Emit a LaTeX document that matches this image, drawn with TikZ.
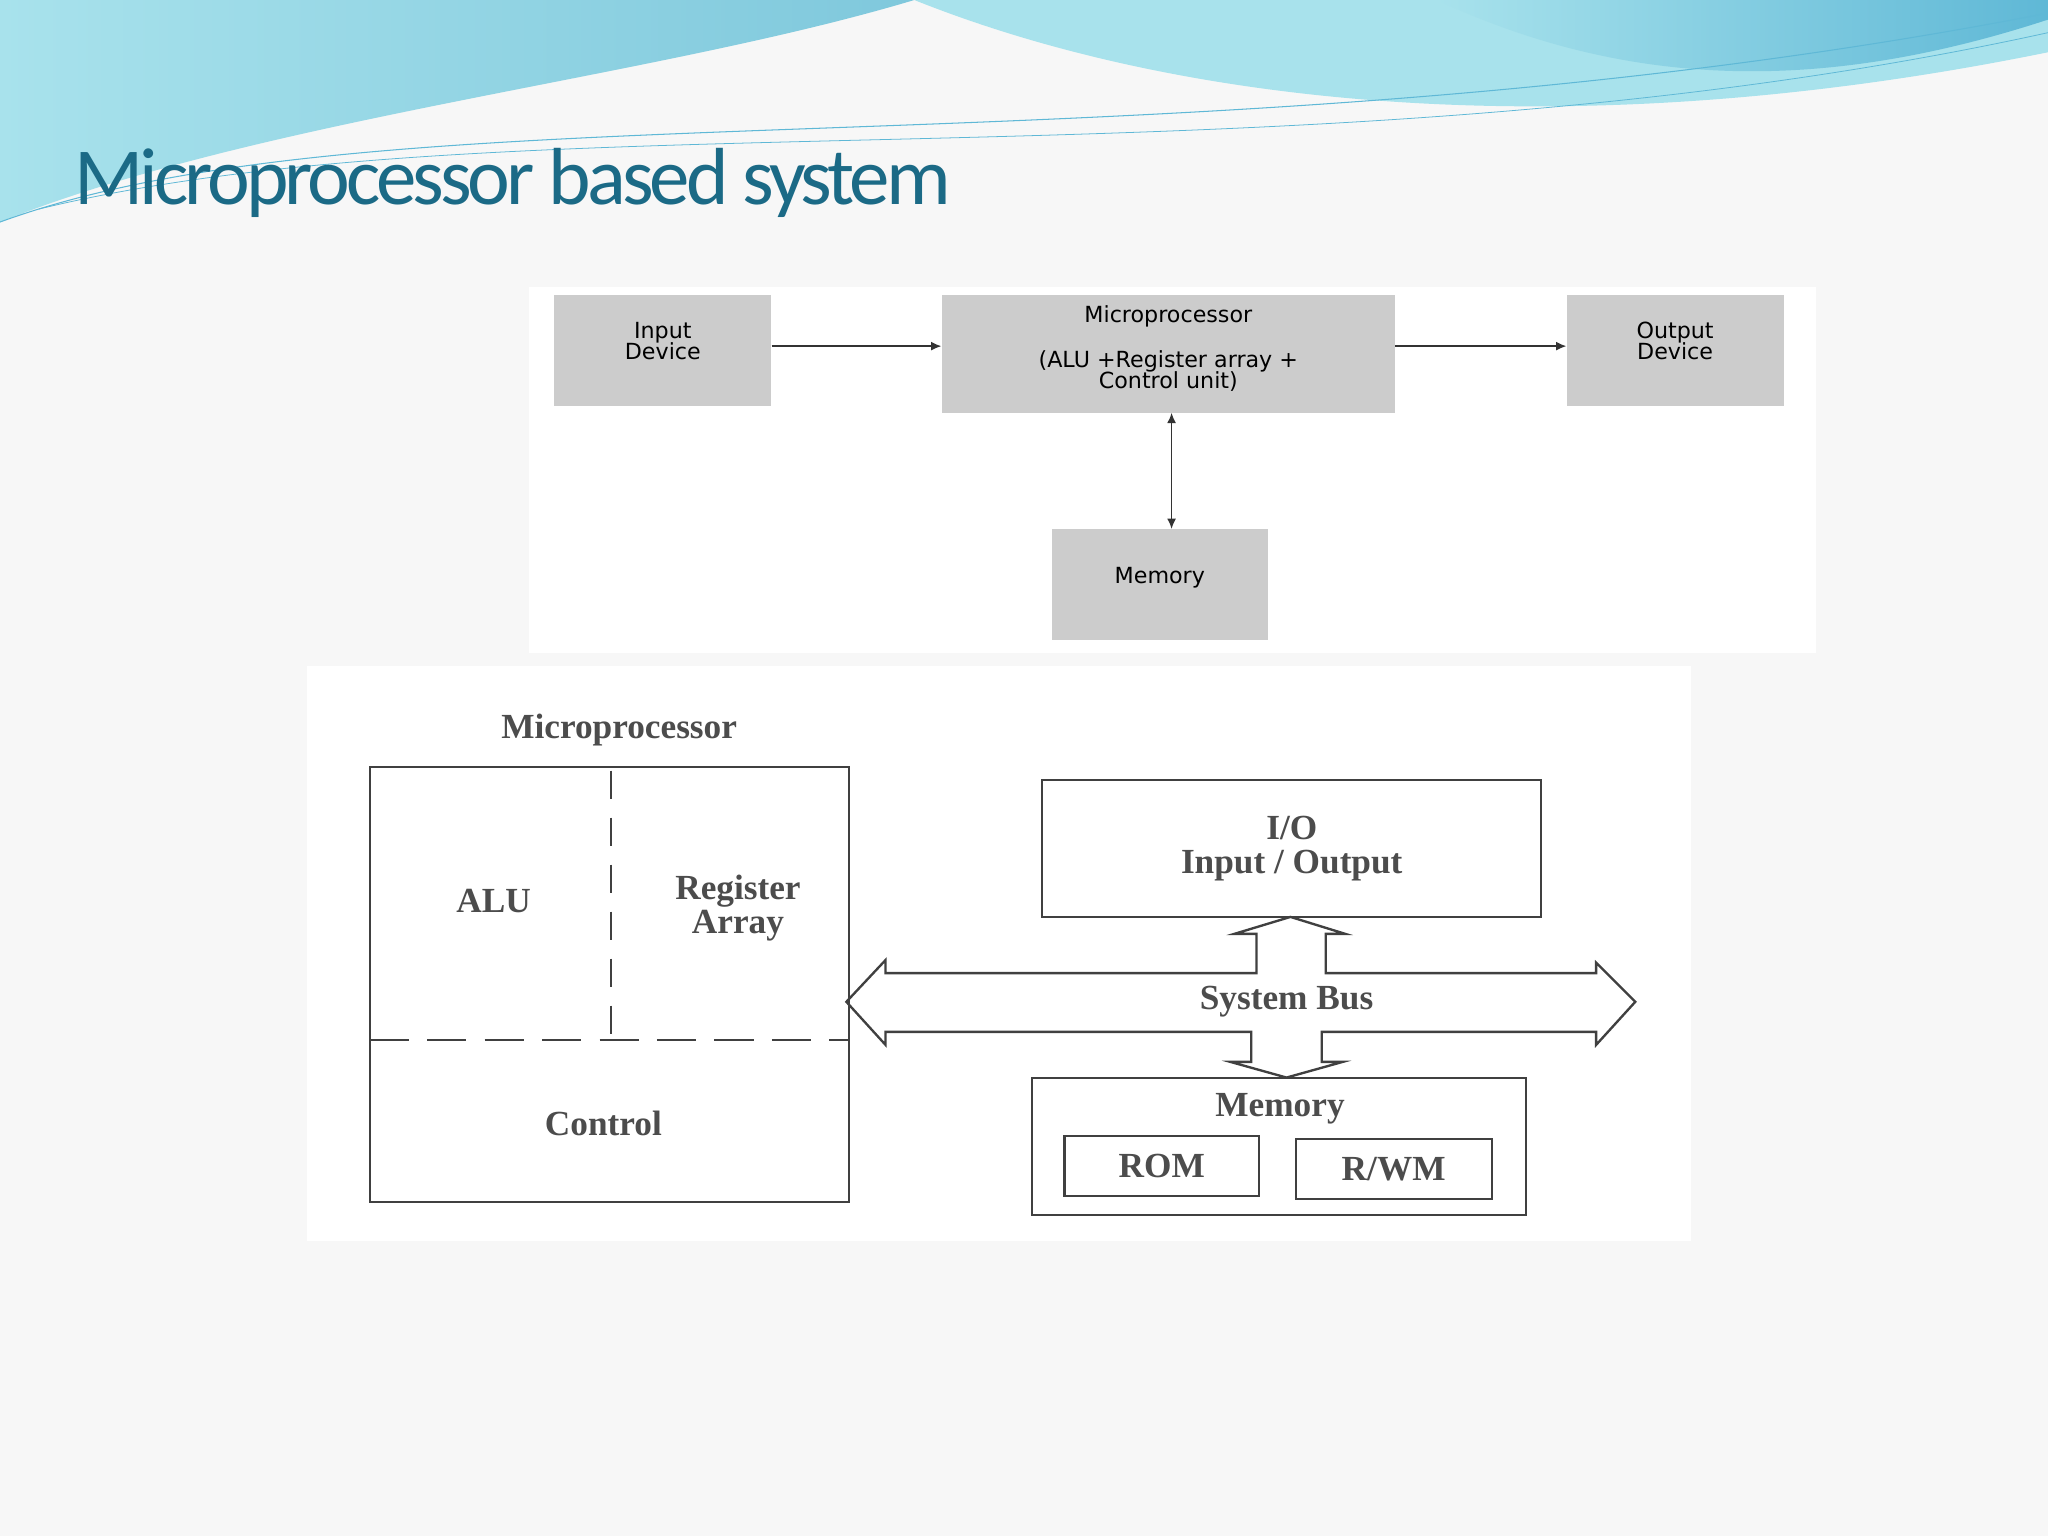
\documentclass[tikz,border=0pt]{standalone}
\usepackage{fontspec}
\usetikzlibrary{arrows.meta}
\setmainfont{Liberation Serif}
\newfontfamily\titlefont{Carlito}
\newfontfamily\boxfont{DejaVu Sans}
\definecolor{wave1}{HTML}{7FC8DC}
\definecolor{wave2}{HTML}{A8E2EC}
\definecolor{wave3}{HTML}{5FB8D6}
\definecolor{titlec}{HTML}{1B6A86}
\begin{document}
\begin{tikzpicture}[x=1pt,y=-1pt,
  gbox/.style={draw=none,fill=black!20,font=\boxfont\fontsize{17}{19}\selectfont,align=center,inner sep=0},
  btxt/.style={font=\boxfont\fontsize{17}{19}\selectfont,align=center,inner sep=0},
  wbox/.style={draw=black!75,line width=1.6pt,fill=none,inner sep=0},
  stxt/.style={font=\fontsize{27}{30}\selectfont\bfseries,text=black!70,align=center},
  arr/.style={-{Latex[length=8pt,width=7pt]},line width=1.3pt,black!80}]
\useasboundingbox (0,0) rectangle (1568,1176);
\fill[black!3] (0,0) rectangle (1568,1176);
% waves
\shade[left color=wave2,right color=wave1] (0,0) -- (700,0) .. controls (500,60) and (200,90) .. (0,170) -- cycle;
\fill[wave2] (700,0) .. controls (900,80) and (1200,115) .. (1568,40) -- (1568,0) -- cycle;
\shade[left color=wave2,right color=wave3] (1100,0) .. controls (1250,70) and (1400,70) .. (1568,15) -- (1568,0) -- cycle;
\draw[wave3,line width=0.8pt] (0,170) .. controls (300,60) and (900,140) .. (1568,10);
\draw[wave3,line width=0.6pt] (30,160) .. controls (400,70) and (1000,150) .. (1568,25);
\node[anchor=west,text=titlec,font=\titlefont\fontsize{62}{66}\selectfont,inner sep=0] (title) at (57,140) {\addfontfeature{LetterSpace=-5}Microprocessor based system};
% panels
\fill[white] (405,220) rectangle (1390,500);
\fill[white] (235,510) rectangle (1295,950);
% top diagram
\node[gbox,minimum width=166,minimum height=85] (in) at (507.5,268) {};
\node[btxt] (int) at (507.5,261) {Input\\[-3pt]Device};
\node[gbox,minimum width=347,minimum height=90] (mp) at (894.5,271) {};
\node[btxt] (mpt) at (894.5,242) {Microprocessor};
\node[btxt] (mpb) at (894.5,284) {(ALU +Register array +\\[-3pt]Control unit)};
\node[gbox,minimum width=166,minimum height=85] (out) at (1282.5,268) {};
\node[btxt] (outt) at (1282.5,261) {Output\\[-3pt]Device};
\node[gbox,minimum width=165,minimum height=85] (mem) at (888,447.5) {};
\node[btxt] (memtt) at (888,442) {Memory};
\draw[arr] (in.east |- 0,265) -- (mp.west |- 0,265);
\draw[arr] (mp.east |- 0,265) -- (out.west |- 0,265);
\draw[{Latex[length=8pt,width=7pt]}-{Latex[length=8pt,width=7pt]},line width=1.3pt,black!80] (897,316) -- (897,405);
% bottom diagram
\node[wbox,minimum width=367,minimum height=333] (cpu) at (466.5,753.5) {};
\node[stxt,anchor=south] (cpul) at (474,575) {Microprocessor};
\draw[black!75,line width=1.6pt,dash pattern=on 22pt off 14pt] (468,590) -- (468,796);
\draw[black!75,line width=1.6pt,dash pattern=on 30pt off 14pt] (283,796) -- (650,796);
\node[stxt] (alu) at (378,690) {ALU};
\node[stxt,align=center] (reg) at (565,695) {Register\\[-4pt]Array};
\node[stxt] (ctl) at (462,860) {Control};
\node[wbox,minimum width=382,minimum height=105] (io) at (989,649.5) {};
\node[stxt,align=center] (iot) at (989,650) {I/O\\[-4pt]Input / Output};
\node[wbox,minimum width=378,minimum height=105] (memb) at (979,877.5) {};
\node[stxt] (memt) at (980,849) {Memory};
\node[wbox,minimum width=149,minimum height=46] (rom) at (889.5,893) {};
\node[stxt] at (rom) {ROM};
\node[wbox,minimum width=150,minimum height=46] (rwm) at (1067,895) {};
\node[stxt] at (rwm) {R/WM};
\draw[black!75,line width=1.8pt,line join=miter] (648,767) -- (678,735) -- (678,745) -- (962,745) -- (962,715) -- (945,715) -- (988,702) -- (1030,715) -- (1015,715) -- (1015,745) -- (1222,745) -- (1222,737) -- (1252,767) -- (1222,800) -- (1222,790) -- (1012,790) -- (1012,813) -- (1028,813) -- (985,825) -- (942,813) -- (958,813) -- (958,790) -- (678,790) -- (678,800) -- cycle;
\node[stxt,fill=white,inner sep=1pt] (bus) at (985,767) {System Bus};
\end{tikzpicture}
\end{document}
